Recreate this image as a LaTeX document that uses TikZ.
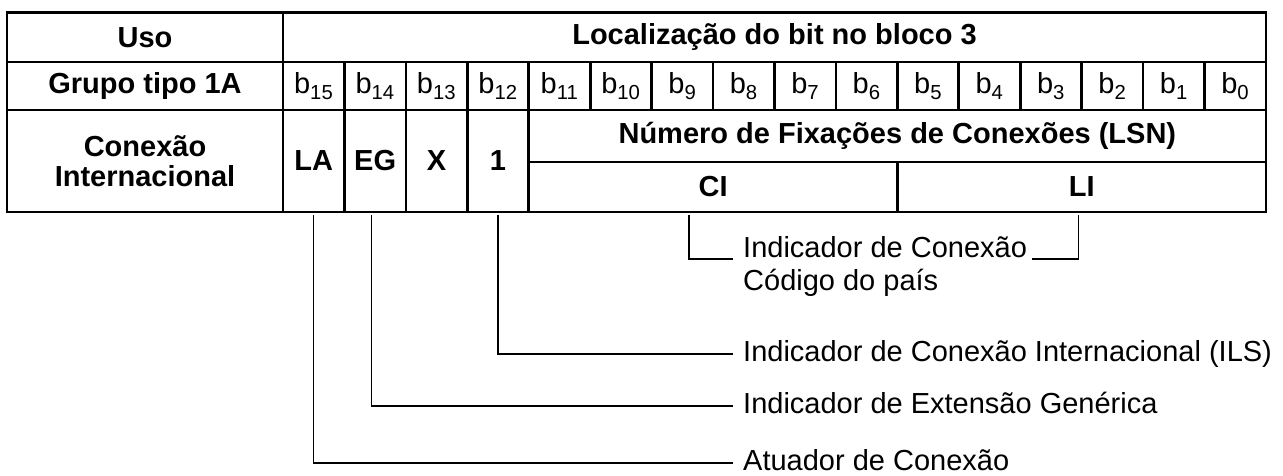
\documentclass[tikz,border=0pt]{standalone}
\usepackage{fontspec}
\setmainfont{Liberation Sans}
\usepackage{tikz}
\usetikzlibrary{calc}

\newcommand{\bigfont}{\fontsize{29}{33}\selectfont}
\def\bw{61.4375}

\begin{document}
\begin{tikzpicture}[x=1pt, y=-1pt,
	cell/.style={draw, line width=2.7pt, inner sep=0pt, outer sep=0pt, anchor=north west, font=\bigfont},
	head/.style={cell, font=\bigfont\bfseries},
	lbl/.style={anchor=base west, inner sep=0pt, font=\bigfont},
	conn/.style={line width=1.3pt}]

	\useasboundingbox (0,0) rectangle (1283,475);

	\coordinate (T) at (7,12.7);
	\coordinate (B) at (283,12.7);

	% first two rows
	\node[head, minimum width=276pt, minimum height=49.3pt] (uso) at (T) {Uso};
	\node[head, minimum width=983pt, minimum height=49.3pt] (loc) at (B) {Localização do bit no bloco 3};
	\node[head, minimum width=276pt, minimum height=48pt] (grupo) at ($(T)+(0,49.3)$) {Grupo tipo 1A};
	\foreach \i in {0,...,15}
		\node[cell, minimum width=\bw pt, minimum height=48pt] (b\i) at ($(B)+({(15-\i)*\bw},49.3)$) {b\textsubscript{\i}};

	% third row
	\node[head, minimum width=276pt, minimum height=102pt, align=center, font=\fontsize{29}{30}\selectfont\bfseries] (conexao) at ($(T)+(0,97.3)$) {Conexão\\Internacional};
	\node[head, minimum width=\bw pt, minimum height=102pt] (la) at (b15.south west) {LA};
	\node[head, minimum width=\bw pt, minimum height=102pt] (eg) at (b14.south west) {EG};
	\node[head, minimum width=\bw pt, minimum height=102pt] (x) at (b13.south west) {X};
	\node[head, minimum width=\bw pt, minimum height=102pt] (one) at (b12.south west) {1};
	\node[head, minimum width={12*\bw pt}, minimum height=52pt] (lsn) at (b11.south west) {Número de Fixações de Conexões (LSN)};
	\node[head, minimum width={6*\bw pt}, minimum height=50pt] (ci) at (lsn.south west) {CI};
	\node[head, minimum width={6*\bw pt}, minimum height=50pt] (li) at (lsn.south) {LI};

	% labels
	\node[lbl] (ind) at (743,257) {Indicador de Conexão};
	\node[lbl] (pais) at (743,290) {Código do país};
	\node[lbl] (ils) at (743,361) {Indicador de Conexão Internacional (ILS)};
	\node[lbl] (ext) at (743,413) {Indicador de Extensão Genérica};
	\node[lbl] (atu) at (743,470) {Atuador de Conexão};

	\draw[conn] ([xshift=-24pt, yshift=-3pt]ci.south) |- ([xshift=-10pt, yshift=-2pt]ind.base west);
	\draw[conn] ([xshift=-3pt, yshift=-3pt]li.south) |- ([xshift=5pt, yshift=-2pt]ind.base east);
	\draw[conn] ([yshift=-3pt]one.south) |- ([xshift=-10pt, yshift=7pt]ils.base west);
	\draw[conn] ([xshift=-4pt, yshift=-3pt]eg.south) |- ([xshift=-10pt, yshift=7pt]ext.base west);
	\draw[conn] ([yshift=-3pt]la.south) |- ([xshift=-10pt, yshift=7pt]atu.base west);

\end{tikzpicture}
\end{document}
